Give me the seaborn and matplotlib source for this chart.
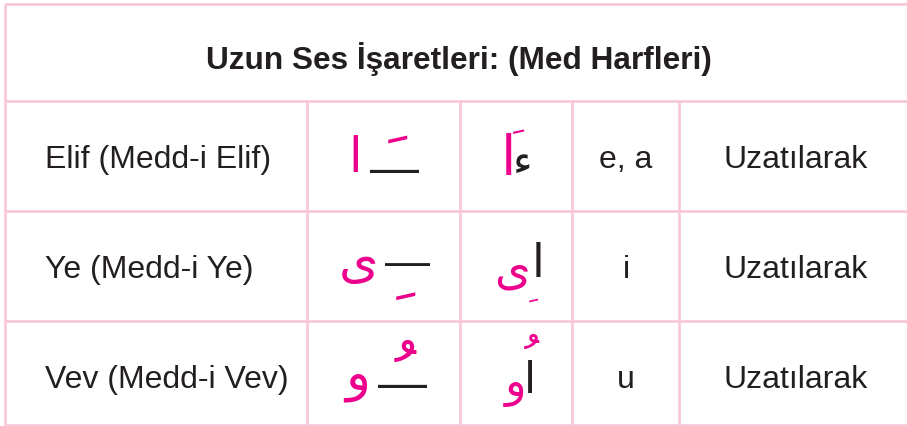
import matplotlib
matplotlib.use("Agg")
import matplotlib.pyplot as plt
import seaborn as sns
from matplotlib.textpath import TextPath
from matplotlib.font_manager import FontProperties

# ---------------- data ----------------
title = "Uzun Ses İşaretleri: (Med Harfleri)"
letter_names = ["Elif (Medd-i Elif)", "Ye (Medd-i Ye)", "Vev (Medd-i Vev)"]
latin_sounds = ["e, a", "i", "u"]
readings = ["Uzatılarak", "Uzatılarak", "Uzatılarak"]

# column 2: long letter + generic letter line with vowel mark
col2_letters = ["\u0627", "\u0649", "\u0648"]      # ا ى و
col2_marks = ["\uFE76", "\uFE7A", "\uFE78"]        # fatha, kasra, damma (spacing forms)
# column 3: written examples
col3_base = ["\u0627", "\u0627", "\u0627"]         # alif carrier
col3_marks = ["\uFE76", "\uFE7A", "\uFE78"]
col3_long = ["\u0621", "\u0649", "\u0648"]         # ء ى و
LINE = "\u2014"

# ---------------- style ----------------
sns.set_theme(style="white")
plt.rcParams["font.family"] = ["Liberation Sans", "DejaVu Sans"]

PINK = "#F8C6DA"
MAGENTA = "#EC008C"
DARK = "#231F20"
PX = 100 / 72.0

fig = plt.figure(figsize=(9.07, 4.27), dpi=100)
ax = fig.add_axes([0, 0, 1, 1])
ax.set_xlim(0, 907)
ax.set_ylim(427, 0)
ax.axis("off")

col_edges = [5, 307, 459.5, 572, 679, 913]
row_edges = [4.5, 101.5, 211.5, 321.5, 426]

# grid
lw = 1.9
ax.hlines(row_edges, col_edges[0], col_edges[-1], colors=PINK, lw=lw, zorder=1)
ax.vlines([col_edges[0], col_edges[-1]], row_edges[0], row_edges[-1], colors=PINK, lw=lw, zorder=1)
ax.vlines(col_edges[1:-1], row_edges[1], row_edges[-1], colors=PINK, lw=lw, zorder=1)


def ink_text(s, cx, cy, color, family="DejaVu Sans", size=30, fit_h=None, fit_w=None):
    """Place text so that its ink box is centred on (cx, cy) pixels."""
    ext = TextPath((0, 0), s, prop=FontProperties(family=family, size=size)).get_extents()
    scale = 1.0
    if fit_h is not None:
        scale = fit_h / (ext.height * PX)
    elif fit_w is not None:
        scale = fit_w / (ext.width * PX)
    size = size * scale
    ext = TextPath((0, 0), s, prop=FontProperties(family=family, size=size)).get_extents()
    x0, x1 = ext.x0 * PX, ext.x1 * PX
    y0, y1 = ext.y0 * PX, ext.y1 * PX
    ax.text(cx - (x0 + x1) / 2, cy + (y0 + y1) / 2, s, fontsize=size, family=family,
            color=color, ha="left", va="baseline", zorder=3)


# title
ax.text((col_edges[0] + col_edges[-1]) / 2, 69, title, fontsize=22.8, fontweight="bold",
        color=DARK, ha="center", va="baseline", family="Liberation Sans")

baselines = [168, 278, 388]
for i in range(3):
    ax.text(45, baselines[i], letter_names[i], fontsize=23, color=DARK,
            ha="left", va="baseline")
    ax.text(626, baselines[i], latin_sounds[i], fontsize=23, color=DARK,
            ha="center", va="baseline")
    ax.text(796, baselines[i], readings[i], fontsize=23, color=DARK,
            ha="center", va="baseline")

# ---- column 2 ----
# row 1
ink_text(col2_letters[0], 355, 153.5, MAGENTA, fit_h=37)
ink_text(LINE, 394.5, 172, DARK, family="Liberation Sans", fit_w=49)
ink_text(col2_marks[0], 397.5, 139, MAGENTA, fit_w=19)
# row 2
ink_text(col2_letters[1], 358.5, 271, MAGENTA, fit_w=33)
ink_text(LINE, 407.5, 265, DARK, family="Liberation Sans", fit_w=45)
ink_text(col2_marks[1], 405, 296, MAGENTA, fit_w=19)
# row 3
ink_text(col2_letters[2], 355, 387.5, MAGENTA, fit_h=29)
ink_text(LINE, 402.5, 387, DARK, family="Liberation Sans", fit_w=49)
ink_text(col2_marks[2], 405, 351.5, MAGENTA, fit_h=22)

# ---- column 3 ----
# row 1
ink_text(col3_base[0], 508, 154, MAGENTA, fit_h=42)
ink_text(col3_marks[0], 518.5, 131.5, MAGENTA, fit_w=11)
ink_text(col3_long[0], 523, 164, DARK, fit_w=13)
# row 2
ink_text(col3_long[1], 512, 277.5, MAGENTA, fit_w=30)
ink_text(col3_base[1], 538, 259.5, DARK, fit_h=35)
ink_text(col3_marks[1], 533, 300.5, MAGENTA, fit_w=9)
# row 3
ink_text(col3_long[2], 512.5, 394, MAGENTA, fit_w=20)
ink_text(col3_base[2], 530, 376.5, DARK, fit_h=33)
ink_text(col3_marks[2], 532, 341.5, MAGENTA, fit_h=15)

fig.savefig("out.png", dpi=100)
